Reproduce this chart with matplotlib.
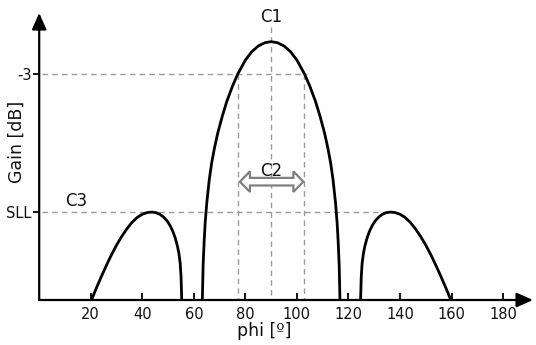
import matplotlib
matplotlib.use("Agg")
import matplotlib.pyplot as plt
from matplotlib.patches import Polygon

# ---------------- data ----------------
main_phi = [63.3, 63.6, 64.0, 64.4, 65.0, 66.0, 66.9, 68.0, 69.3, 71.0, 72.8, 75.0,
            77.0, 80.0, 82.5, 85.0, 87.5, 90.0,
            92.5, 95.0, 97.5, 100.0, 103.0, 105.0, 107.2, 109.0, 110.7, 112.0,
            113.1, 114.0, 115.0, 115.6, 116.0, 116.4, 116.7]
main_gain = [-23.8, -20.6, -18.4, -16.7, -14.9, -12.7, -11.2, -9.8, -8.4, -6.9, -5.5, -4.1,
             -3.0, -1.7, -0.92, -0.40, -0.10, 0.0,
             -0.10, -0.40, -0.92, -1.7, -3.0, -4.1, -5.5, -6.9, -8.4, -9.8,
             -11.2, -12.7, -14.9, -16.7, -18.4, -20.6, -23.8]

left_phi = [20.3, 22.0, 24.0, 26.0, 28.0, 30.0, 32.0, 34.0, 36.0, 38.0, 40.0, 42.0,
            43.7, 45.3, 46.8, 48.2, 49.6, 50.8, 51.9, 52.8, 53.6, 54.2, 54.7, 55.05, 55.3]
left_gain = [-23.8, -22.8, -21.7, -20.65, -19.65, -18.75, -17.95, -17.25, -16.65, -16.2,
             -15.9, -15.74, -15.7, -15.75, -15.9, -16.15, -16.5, -16.95, -17.5, -18.1,
             -18.8, -19.5, -20.4, -21.7, -23.8]

right_phi = [124.7, 124.95, 125.3, 125.8, 126.4, 127.2, 128.1, 129.2, 130.4, 131.8,
             133.2, 134.7, 136.3, 138.0, 140.0, 142.0, 144.0, 146.0, 148.0, 150.0,
             152.0, 154.0, 156.0, 158.0, 159.7]
right_gain = [-23.8, -21.7, -20.4, -19.5, -18.8, -18.1, -17.5, -16.95, -16.5, -16.15,
              -15.9, -15.75, -15.7, -15.74, -15.9, -16.2, -16.65, -17.25, -17.95, -18.75,
              -19.65, -20.65, -21.7, -22.8, -23.8]

x_ticks = [20, 40, 60, 80, 100, 120, 140, 160, 180]
y_levels = [-15.7, -3.0]
y_tick_labels = ["SLL", "-3"]

peak_phi = 90.0
hpbw_left = 77.3
hpbw_right = 102.8
sll_level = -15.7
right_lobe_peak = 136.3

# ---------------- figure ----------------
W, H = 536, 345
fig = plt.figure(figsize=(W / 100, H / 100), dpi=100)
ax = fig.add_axes([39.2 / W, 45 / H, (533 - 39.2) / W, (300 - 13) / H])
ax.set_xlim(0, 191.6)
ax.set_ylim(-23.8, 2.64)
for s in ax.spines.values():
    s.set_visible(False)

dash_kw = dict(color="#9a9a9a", lw=1.0, dashes=(4, 3), zorder=1)
ax.plot([1, hpbw_right + 1], [-3, -3], **dash_kw)
ax.plot([1, right_lobe_peak], [sll_level, sll_level], **dash_kw)
ax.plot([hpbw_left, hpbw_left], [-3, -23.8], **dash_kw)
ax.plot([hpbw_right, hpbw_right], [-3, -23.8], **dash_kw)
ax.plot([peak_phi, peak_phi], [1.36, -23.8], **dash_kw)

curve_kw = dict(color="black", lw=2.0, solid_capstyle="butt",
                solid_joinstyle="round", zorder=3)
ax.plot(main_phi, main_gain, **curve_kw)
ax.plot(left_phi, left_gain, **curve_kw)
ax.plot(right_phi, right_gain, **curve_kw)

# axes with arrows
arrow_kw = dict(arrowstyle="-|>,head_length=0.9,head_width=0.4", lw=1.6,
                color="black", shrinkA=0, shrinkB=0, mutation_scale=11)
ax.annotate("", xy=(1, 0), xytext=(0, 0), xycoords="axes fraction",
            arrowprops=arrow_kw, annotation_clip=False, zorder=4)
ax.annotate("", xy=(0, 1), xytext=(0, 0), xycoords="axes fraction",
            arrowprops=arrow_kw, annotation_clip=False, zorder=4)

ax.set_xticks(x_ticks)
ax.set_xticklabels([str(t) for t in x_ticks])
ax.set_yticks(y_levels)
ax.set_yticklabels(y_tick_labels)
ax.tick_params(axis="x", direction="in", length=5, width=1.4, pad=5,
               labelsize=10.5, colors="#111111")
ax.tick_params(axis="y", direction="out", length=4, width=1.4, pad=1.5,
               labelsize=10.5, colors="#111111")

# labels
fig.text(264 / W, 1 - 331 / H, "phi [º]", ha="center", va="center",
         fontsize=12.5, color="#111111")
fig.text(16.5 / W, 1 - 142 / H, "Gain [dB]", ha="center", va="center",
         rotation=90, fontsize=12.5, color="#111111")

ax.text(peak_phi, 2.3, "C1", ha="center", va="center", fontsize=12, color="#111111")
ax.text(peak_phi, -11.9, "C2", ha="center", va="center", fontsize=12, color="#111111")
ax.text(14.5, -14.7, "C3", ha="center", va="center", fontsize=12, color="#111111")

# hollow double arrow (C2) built in pixel units around its data endpoints
fig.canvas.draw()
x0, y0 = ax.transData.transform((77.9, -12.9))
x1, _ = ax.transData.transform((102.5, -12.9))
hl, hh, sh = 10.0, 10.3, 3.8
verts = [
    (x0, y0), (x0 + hl, y0 + hh), (x0 + hl, y0 + sh), (x1 - hl, y0 + sh),
    (x1 - hl, y0 + hh), (x1, y0), (x1 - hl, y0 - hh), (x1 - hl, y0 - sh),
    (x0 + hl, y0 - sh), (x0 + hl, y0 - hh),
]
poly = Polygon(verts, closed=True, transform=None, facecolor="white",
               edgecolor="#7f7f7f", lw=1.6, zorder=5, joinstyle="miter")
fig.add_artist(poly)

fig.savefig("out.png", dpi=100)
